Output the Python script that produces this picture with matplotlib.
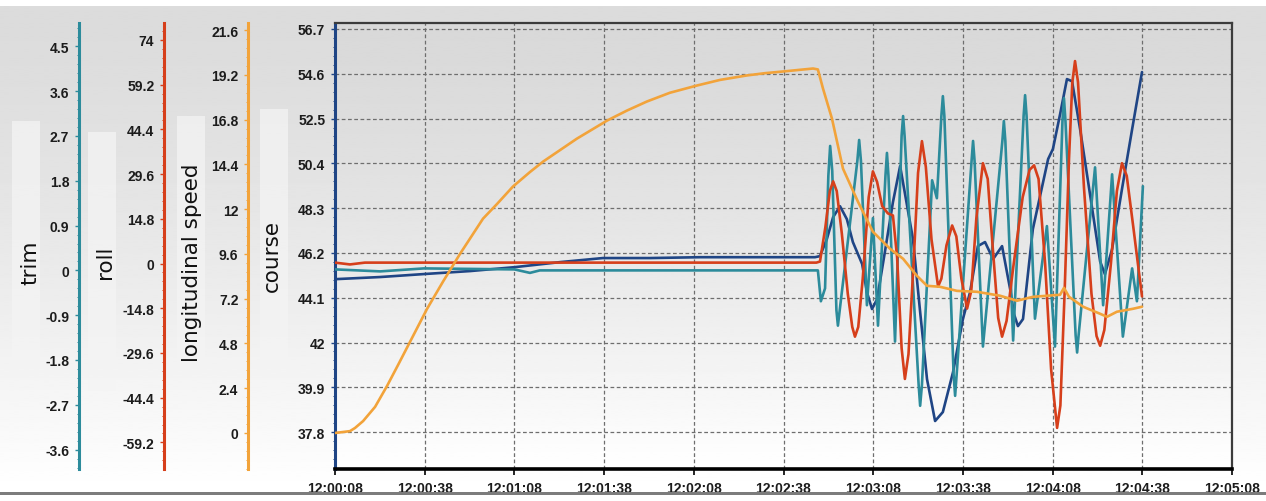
import matplotlib
matplotlib.use('Agg')
import matplotlib.pyplot as plt
from matplotlib.ticker import FixedLocator, AutoMinorLocator, MultipleLocator, FuncFormatter
from matplotlib.patches import Rectangle
import numpy as np

# time is in seconds after 12:00:08
speed_t = [0, 5.0, 6.7, 9.4, 13.4, 17.4, 21.1, 25.1, 30.8, 36.1, 41.8, 49.5, 54.2,
           59.5, 65.2, 69.6, 80.9, 91.0, 97.7, 104.3, 112.0, 121.1, 128.8, 137.8,
           143.8, 149.8, 159.9, 161.5, 163.2, 166.2, 169.9, 174.9, 179.9, 185.6,
           190.0, 194.6, 198.0, 202.3, 208.0, 214.7, 222.4, 228.1, 233.4, 242.5,
           243.8, 245.5, 250.2, 255.9, 258.2, 261.5, 266.9, 269.9]
speed_v = [0.0, 0.1, 0.27, 0.64, 1.40, 2.52, 3.65, 4.89, 6.66, 8.11, 9.60, 11.49, 12.28,
           13.21, 13.99, 14.55, 15.78, 16.75, 17.29, 17.77, 18.24, 18.63, 18.93, 19.17,
           19.29, 19.38, 19.54, 19.49, 18.47, 16.86, 14.17, 12.40, 10.79, 9.88,
           9.34, 8.43, 7.89, 7.84, 7.62, 7.57, 7.36, 7.09, 7.30, 7.41,
           7.78, 7.30, 6.77, 6.39, 6.23, 6.50, 6.66, 6.77]

course_t = [0, 15.1, 29.8, 45.2, 59.9, 75.3, 89.6, 105.4, 122.1, 142.1, 160.5, 162.2,
            164.5, 166.6, 168.9, 171.2, 173.2, 176.3, 177.9, 179.6, 181.3, 183.9,
            186.6, 189.0, 193.3, 195.7, 198.0, 200.7, 203.3, 206.7, 210.0, 212.4,
            215.0, 217.4, 220.1, 223.1, 225.8, 227.1, 228.4, 230.1, 233.4, 238.5,
            240.1, 242.5, 244.8, 246.5, 249.2, 252.5, 255.9, 257.5, 259.9, 263.2,
            266.6, 269.9]
course_v = [44.97, 45.07, 45.21, 45.35, 45.53, 45.77, 45.96, 45.96, 46.00, 46.00, 46.00, 46.05,
            46.85, 47.88, 48.39, 47.78, 46.71, 45.68, 44.36, 43.57, 44.03, 46.24,
            48.58, 50.27, 46.85, 43.43, 40.28, 38.32, 38.74, 40.61, 43.10, 44.36,
            46.52, 46.71, 45.91, 46.52, 44.50, 43.33, 42.77, 43.10, 47.32, 50.60,
            51.07, 52.70, 54.35, 54.25, 52.00, 48.96, 45.80, 45.20, 46.38, 49.19,
            52.00, 54.68]

roll_t = [0, 5, 10, 60, 120, 161.0, 162.2, 164.0, 165.5, 166.6, 167.8, 169.5, 171.5,
          173.0, 173.9, 175.0, 176.5, 178.5, 179.9, 181.3, 183.0, 184.9, 186.6, 188.0,
          189.5, 190.6, 191.8, 193.5, 195.0, 196.3, 197.6, 199.5, 201.7, 202.8, 204.5,
          206.4, 207.8, 209.5, 211.4, 212.8, 214.5, 216.7, 218.3, 220.0, 221.8, 223.1,
          224.6, 227.0, 230.0, 232.3, 233.8, 235.3, 237.5, 239.5, 241.5, 242.6, 244.0,
          245.5, 246.6, 247.5, 248.5, 250.5, 253.0, 254.7, 255.9, 257.3, 259.5, 261.5,
          263.2, 264.8, 267.0, 269.9]
roll_v = [0.3, -0.3, 0.3, 0.3, 0.3, 0.3, 0.66, 12, 24, 27.2, 24, 10, -10,
          -21, -24.2, -21, -5, 22, 30.5, 27, 19, 16.6, 15.9, 2,
          -28, -38.2, -30, 0, 30, 40.5, 32, 8, -7.6, -5, 6,
          12.6, 9, -5, -14.9, -9, 15, 33.2, 28, 5, -18, -24.2,
          -19, 0, 22, 31, 32.5, 28, 0, -35, -54.4, -47, -10,
          35, 60, 67.0, 60, 25, -10, -24, -27.2, -22, 0, 24,
          33.2, 29, 12, -10.9]

trim_t = [0, 15.1, 29.8, 60, 65.2, 68.5, 122, 161.5, 162.5, 163.9, 165.0, 165.6, 166.3,
          167.7, 168.2, 168.8, 174.7, 175.3, 175.9, 177.9, 179.9, 181.6, 184.1, 184.6,
          185.1, 187.3, 189.5, 190.0, 190.5, 195.2, 195.7, 196.3, 199.7, 201.3, 202.8,
          203.3, 203.8, 206.9, 207.4, 207.9, 212.9, 213.4, 213.9, 216.7, 223.2, 223.7,
          224.2, 226.8, 230.3, 230.8, 231.3, 234.1, 238.1, 240.8, 243.3, 243.8, 244.3,
          247.7, 248.2, 248.7, 254.2, 256.9, 259.9, 263.5, 266.6, 268.2, 270.2]
trim_v = [0.02, -0.02, 0.04, 0.02, -0.05, 0.0, 0.0, 0.0, -0.62, -0.36, 1.9, 2.50, 2.0,
          -0.8, -1.11, -0.8, 2.2, 2.62, 2.2, -0.70, 1.05, -1.11, 1.9, 2.36,
          1.9, -1.43, 2.7, 3.10, 2.7, -2.3, -2.72, -2.3, 1.81, 1.45, 3.1,
          3.50, 3.1, -2.1, -2.52, -2.1, 2.2, 2.60, 2.2, -1.53, 2.6, 3.00,
          2.6, -1.41, 3.1, 3.52, 3.1, -0.97, 0.89, -1.53, 3.0, 3.46, 3.0,
          -1.3, -1.65, -1.3, 2.07, -0.70, 1.93, -1.33, 0.04, -0.62, 1.69]

trim_ticks = [-3.6, -2.7, -1.8, -0.9, 0, 0.9, 1.8, 2.7, 3.6, 4.5]
roll_ticks = [-59.2, -44.4, -29.6, -14.8, 0, 14.8, 29.6, 44.4, 59.2, 74]
speed_ticks = [0, 2.4, 4.8, 7.2, 9.6, 12, 14.4, 16.8, 19.2, 21.6]
course_ticks = [37.8, 39.9, 42, 44.1, 46.2, 48.3, 50.4, 52.5, 54.6, 56.7]

C_TRIM = '#2c8b9b'
C_ROLL = '#d63f1b'
C_SPEED = '#f2a33a'
C_COURSE = '#1f4585'
TICKFONT = dict(family='Liberation Sans', weight='bold', size=10)

W, H = 1266, 502
fig = plt.figure(figsize=(W / 100, H / 100), dpi=100)
fig.patch.set_facecolor('white')


def px(x0, y0, x1, y1):
    return [x0 / W, 1 - y1 / H, (x1 - x0) / W, (y1 - y0) / H]


def gradient_axes(rect, top, bottom, z):
    g = fig.add_axes(rect, zorder=z)
    s = np.linspace(0, 1, 256) ** 1.4
    g.imshow((top + (bottom - top) * s).reshape(-1, 1), aspect='auto', cmap='gray',
             vmin=0, vmax=1, extent=[0, 1, 0, 1], interpolation='bilinear')
    g.axis('off')
    return g


gradient_axes(px(0, 7, W, 492), 0.86, 1.0, -6)
gradient_axes(px(335, 24, 1232, 470), 0.85, 1.0, -5)
fig.add_artist(Rectangle((0, 1 - 496 / H), 1, 3 / H, transform=fig.transFigure,
                         color='#7c7c7c', lw=0))

# pale boxes behind the axis titles
for x0, y0, x1, y1 in [(12, 122, 40, 378), (88, 133, 116, 392),
                       (177, 117, 205, 372), (260, 110, 288, 368)]:
    fig.add_artist(Rectangle((x0 / W, 1 - y1 / H), (x1 - x0) / W, (y1 - y0) / H,
                             transform=fig.transFigure, color='#f4f4f4', alpha=0.75, lw=0))

ax = fig.add_axes(px(335, 24, 1232, 470))
ax.set_facecolor('none')


def clock(v, pos):
    s = int(round(v)) + 12 * 3600 + 8
    return '%d:%02d:%02d' % (s // 3600, s // 60 % 60, s % 60)


def num(v, pos):
    return '%g' % round(v, 2)


ax.set_xlim(0, 300)
ax.xaxis.set_major_locator(MultipleLocator(30))
ax.xaxis.set_major_formatter(FuncFormatter(clock))
ax.set_ylim(36.07, 56.98)
ax.yaxis.set_major_locator(FixedLocator(course_ticks))
ax.yaxis.set_major_formatter(FuncFormatter(num))
ax.yaxis.set_minor_locator(AutoMinorLocator(5))
ax.grid(True, color='#6e6e6e', linestyle=(0, (3, 2)), lw=0.9)
ax.tick_params(axis='x', direction='out', length=4, width=1.2, pad=5, color='black')
ax.tick_params(axis='y', which='major', direction='out', length=3, width=1, pad=4,
               color=C_COURSE)
ax.tick_params(axis='y', which='minor', direction='out', length=1.5, width=0.7,
               color=C_COURSE)
for lab in ax.get_xticklabels() + ax.get_yticklabels():
    lab.set(**TICKFONT, color='#1c1c1c')
ax.spines['bottom'].set(color='black', lw=2.6)
ax.spines['left'].set(color=C_COURSE, lw=2.2)
ax.spines['top'].set(color='#3c3c3c', lw=1.6)
ax.spines['right'].set(color='#3c3c3c', lw=1.6)


def side_axis(frac, color, ticks, lim):
    a = ax.twinx()
    a.yaxis.tick_left()
    a.yaxis.set_label_position('left')
    for s in a.spines.values():
        s.set_visible(False)
    a.spines['left'].set_visible(True)
    a.spines['left'].set_position(('axes', frac))
    a.spines['left'].set(color=color, lw=2.2)
    a.set_ylim(lim)
    a.yaxis.set_major_locator(FixedLocator(ticks))
    a.yaxis.set_major_formatter(FuncFormatter(num))
    a.yaxis.set_minor_locator(AutoMinorLocator(5))
    a.tick_params(axis='y', which='major', direction='out', length=3, width=1, pad=4,
                  color=color)
    a.tick_params(axis='y', which='minor', direction='out', length=1.5, width=0.7,
                  color=color)
    for lab in a.get_yticklabels():
        lab.set(**TICKFONT, color='#1c1c1c')
    return a


line_kw = dict(lw=1.9, solid_joinstyle='round', solid_capstyle='round')
ax.plot(course_t, course_v, color=C_COURSE, **line_kw)
ax_trim = side_axis(-0.2854, C_TRIM, trim_ticks, (-3.99, 4.97))
ax_trim.plot(trim_t, trim_v, color=C_TRIM, **line_kw)
ax_roll = side_axis(-0.1906, C_ROLL, roll_ticks, (-68.0, 79.6))
ax_roll.plot(roll_t, roll_v, color=C_ROLL, **line_kw)
ax_speed = side_axis(-0.0970, C_SPEED, speed_ticks, (-1.93, 21.98))
ax_speed.plot(speed_t, speed_v, color=C_SPEED, **line_kw)

for x, y, txt in [(30, 263, 'trim'), (105, 262, 'roll'),
                  (192, 263, 'longitudinal speed'), (272, 256, 'course')]:
    fig.text(x / W, 1 - y / H, txt, rotation=90, ha='center', va='center',
             fontsize=15.5, color='#111111', family='DejaVu Sans')

fig.savefig('out.png', dpi=100)
